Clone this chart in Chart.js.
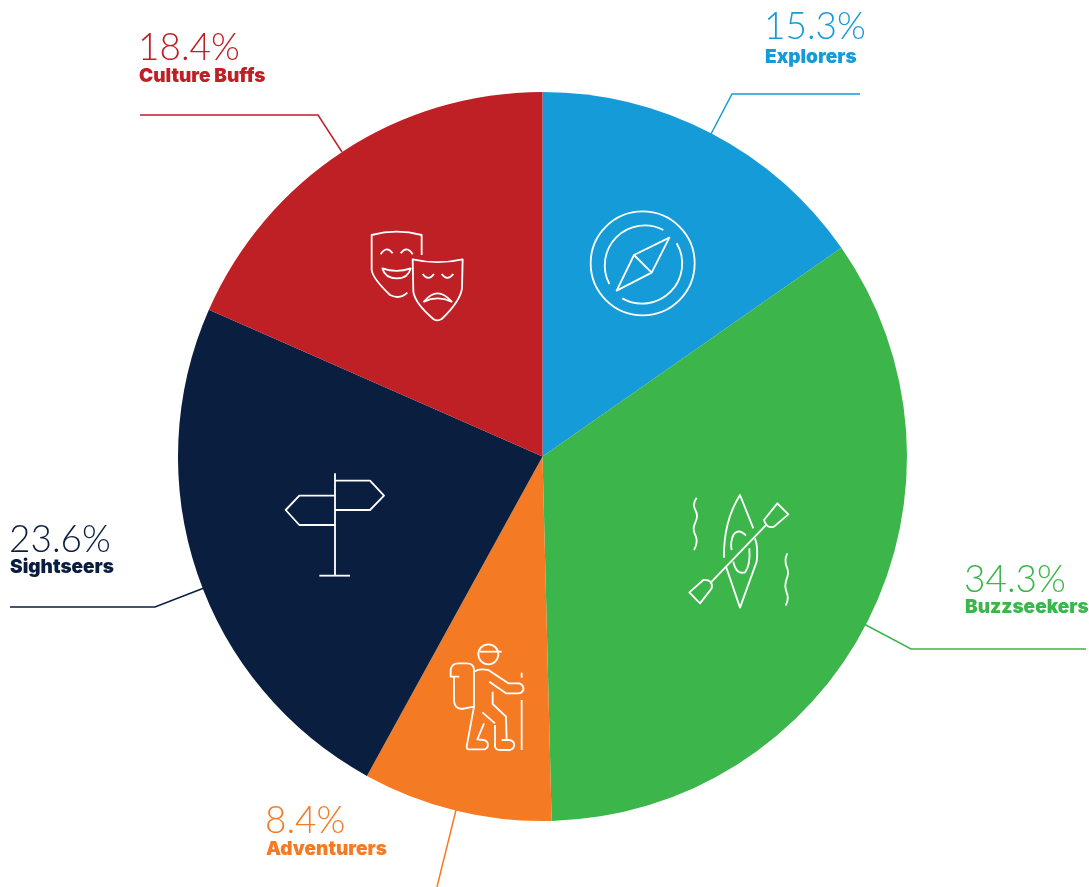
<!DOCTYPE html>
<html>
<head>
<meta charset="utf-8">
<title>Visitor segments</title>
<script src="https://cdn.jsdelivr.net/npm/chart.js@4"></script>
<style>
  html, body { margin: 0; padding: 0; background: #fff; overflow: hidden; }
  canvas { display: block; }
</style>
</head>
<body>
<canvas id="chart" width="1089" height="887"></canvas>
<script>
const categories = ['Explorers', 'Buzzseekers', 'Adventurers', 'Sightseers', 'Culture Buffs'];
const shares = [15.3, 34.3, 8.4, 23.6, 18.4];
const colours = ['#169bd9', '#3cb54b', '#f47a24', '#0a1e3f', '#be2026'];

// callouts: text position + leader line, in page pixels
const callouts = [
  { x: 764, pctY: 39, nameY: 63, line: [[860, 94], [732, 94], [711, 134]] },
  { x: 964, pctY: 592, nameY: 613, line: [[1086, 649], [911, 649], [864, 624]] },
  { x: 265, pctY: 833, nameY: 855, line: [[437, 887], [456, 810]] },
  { x: 9, pctY: 552, nameY: 573, line: [[10, 607], [155, 607], [204, 588]] },
  { x: 138, pctY: 60, nameY: 82, line: [[140, 115], [318, 115], [342, 152]] }
];

// icons: svg paths traced at 3x, with their page origin
const icons = [
  { x: 570, y: 200, paths: [
    'M62 190a156 156 0 1 0 312 0a156 156 0 1 0 -312 0',
    'M118 252A120 120 0 0 1 280 90',
    'M320 130A120 120 0 0 1 157 295',
    'M298 113L192 165L140 272L245 218Z',
    'M192 165L245 218'
  ] },
  { x: 670, y: 485, paths: [
    'M250 130L210 30Q160 110 162 218',
    'M168 245L210 368L260 230Q265 185 255 160',
    'M228 152Q205 128 190 150Q180 172 185 195',
    'M190 230Q198 270 225 262Q242 240 238 190',
    'M125 290L290 118',
    'M322 55L355 88L312 125Q290 132 282 105Z',
    'M58 322L90 355L125 310Q130 283 100 285Z',
    'M80 38Q66 58 76 75Q86 92 76 112Q66 132 76 150Q86 170 72 195',
    'M352 205Q342 225 350 245Q358 262 350 282Q342 302 350 322Q358 340 347 362'
  ] },
  { x: 430, y: 635, paths: [
    'M145 58a30 30 0 1 0 60 0a30 30 0 1 0 -60 0',
    'M150 50L215 50',
    'M88 125L62 125L62 105Q65 85 85 85L110 85Q132 85 132 105L132 215L95 222Q72 220 72 195L72 125',
    'M135 110Q145 100 175 105L235 145L268 145Q282 150 280 165Q275 175 265 175L228 175L178 140',
    'M132 215L110 335Q110 345 120 343L165 343Q178 335 172 322Q168 315 160 315L142 313L162 265',
    'M157 232L195 265',
    'M188 170L188 207L228 245L230 315',
    'M195 270L195 335Q197 345 210 345L240 345Q255 340 252 325Q248 315 235 315L215 315',
    'M275 113L275 128',
    'M275 195L275 345'
  ] },
  { x: 270, y: 465, paths: [
    'M195 25L195 332',
    'M148 332L240 332',
    'M195 47L300 47L342 92L300 135L195 135',
    'M195 92L88 92L47 135L88 180L195 180'
  ] },
  { x: 350, y: 220, paths: [
    'M215 105L215 45Q140 25 65 45L65 150Q68 175 120 225Q150 240 172 218',
    'M92 103Q110 75 128 100',
    'M152 100Q170 75 188 103',
    'M97 145Q140 160 182 145Q175 175 140 175Q105 175 97 145Z',
    'M188 118Q262 135 338 118L336 205Q330 245 275 297Q262 305 250 297Q195 250 190 215Z',
    'M218 162Q235 185 252 162',
    'M275 162Q292 185 310 162',
    'M222 245Q262 195 305 245Q262 225 222 245Z'
  ] }
];

// draws the icons, leader lines and labels on top of the pie
const decorations = {
  id: 'decorations',
  afterDraw(chart) {
    const ctx = chart.ctx;
    ctx.save();

    icons.forEach(icon => {
      ctx.save();
      ctx.translate(icon.x, icon.y);
      ctx.scale(1 / 3, 1 / 3);
      ctx.strokeStyle = '#fff';
      ctx.lineWidth = 5.5;
      ctx.lineJoin = 'round';
      icon.paths.forEach(p => ctx.stroke(new Path2D(p)));
      ctx.restore();
    });

    ctx.textAlign = 'left';
    ctx.textBaseline = 'alphabetic';
    callouts.forEach((c, i) => {
      ctx.strokeStyle = colours[i];
      ctx.lineWidth = 1.5;
      ctx.beginPath();
      c.line.forEach(([x, y], n) => n ? ctx.lineTo(x, y) : ctx.moveTo(x, y));
      ctx.stroke();

      ctx.fillStyle = colours[i];
      ctx.font = '300 37px Lato';
      ctx.fillText(shares[i].toFixed(1) + '%', c.x, c.pctY);
      ctx.font = '900 19px Inter';
      ctx.fillText(categories[i], c.nameX || c.x + 1, c.nameY);
    });

    ctx.restore();
  }
};

new Chart(document.getElementById('chart'), {
  type: 'pie',
  data: {
    labels: categories,
    datasets: [{
      data: shares,
      backgroundColor: colours,
      borderWidth: 0
    }]
  },
  options: {
    responsive: false,
    animation: false,
    layout: { padding: { left: 178, right: 182, top: 92, bottom: 66 } },
    plugins: {
      legend: { display: false },
      tooltip: { enabled: false }
    }
  },
  plugins: [decorations]
});
</script>
</body>
</html>
